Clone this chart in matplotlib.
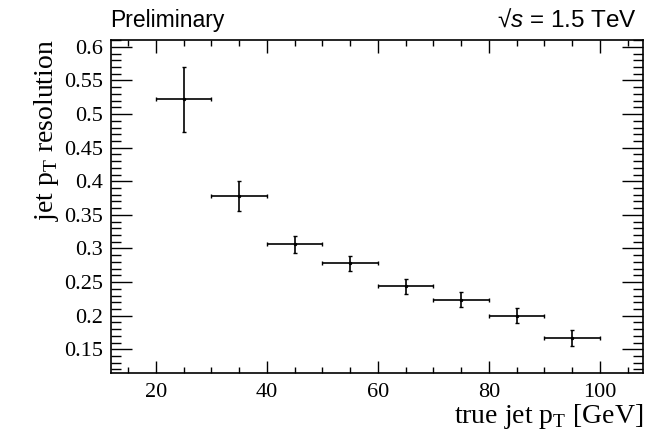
import numpy as np
import matplotlib
matplotlib.use("Agg")
import matplotlib.pyplot as plt
from matplotlib.ticker import MultipleLocator

# jet pT bins (centres) and measured resolution
pt_centres = [25, 35, 45, 55, 65, 75, 85, 95]
pt_halfwidth = [5, 5, 5, 5, 5, 5, 5, 5]
resolution = [0.522, 0.378, 0.306, 0.278, 0.244, 0.224, 0.200, 0.167]
resolution_err = [0.048, 0.022, 0.012, 0.011, 0.011, 0.011, 0.011, 0.012]

plt.rcParams["mathtext.fontset"] = "custom"
plt.rcParams["mathtext.rm"] = "Liberation Serif"
plt.rcParams["mathtext.it"] = "Liberation Sans:italic"

serif = "Liberation Serif"
sans = "Liberation Sans"

fig = plt.figure(figsize=(6.61, 4.37), dpi=100)
ax = fig.add_axes([0.1679, 0.1458, 0.9732 - 0.1679, 0.9096 - 0.1458])

ax.errorbar(pt_centres, resolution, xerr=pt_halfwidth, yerr=resolution_err,
            fmt="none", ecolor="black", elinewidth=1.2, capsize=1.5, capthick=1.0)
ax.plot(pt_centres, resolution, ls="none", marker="o", ms=1.5, color="black")

ax.set_xlim(11.9, 107.8)
ax.set_ylim(0.1143, 0.611)

ax.xaxis.set_major_locator(MultipleLocator(20))
ax.xaxis.set_minor_locator(MultipleLocator(5))
ax.yaxis.set_minor_locator(MultipleLocator(0.01))
ax.set_yticks(np.arange(0.15, 0.601, 0.05))
ax.set_yticklabels(["0.15", "0.2", "0.25", "0.3", "0.35", "0.4", "0.45", "0.5", "0.55", "0.6"])

ax.tick_params(axis="both", which="both", direction="in", top=True, right=True,
               color="black", width=1.0)
ax.tick_params(axis="x", which="major", length=9, pad=7)
ax.tick_params(axis="x", which="minor", length=4.5)
ax.tick_params(axis="y", which="major", length=15, pad=6)
ax.tick_params(axis="y", which="minor", length=7.5)
for lab in ax.get_xticklabels() + ax.get_yticklabels():
    lab.set_fontfamily(serif)
    lab.set_fontsize(16)
for sp in ax.spines.values():
    sp.set_linewidth(1.2)

ax.set_xlabel(r"true jet p$_\mathrm{T}$ [GeV]", fontfamily=serif, fontsize=20,
              loc="right", labelpad=0)
ax.set_ylabel(r"jet p$_\mathrm{T}$ resolution", fontfamily=serif, fontsize=20,
              loc="top", labelpad=2)

fig.text(0.1664, 0.939, "Preliminary", fontfamily=sans, fontsize=16.5,
         ha="left", va="baseline")
fig.text(0.964, 0.939, r"√$\mathit{s}$ = 1.5 TeV", fontfamily=sans, fontsize=17.5,
         ha="right", va="baseline")

fig.savefig("out.png", dpi=100)
